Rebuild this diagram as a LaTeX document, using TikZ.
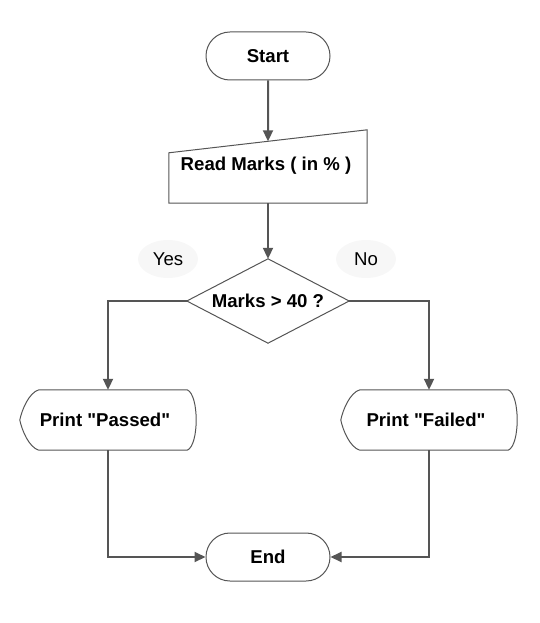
\documentclass[tikz,border=0pt]{standalone}
\usepackage{fontspec}
\setmainfont{Liberation Sans}[Ligatures=TeXOff]
\usetikzlibrary{arrows.meta,calc,shapes.geometric}
\definecolor{ln}{HTML}{555555}
\definecolor{lblbg}{HTML}{F7F7F7}
\begin{document}
\begin{tikzpicture}[x=1pt,y=-1pt,
  font=\bfseries\fontsize{18.6}{22}\selectfont,
  box/.style={rectangle, draw=none, inner sep=0pt},
  outline/.style={draw=ln, line width=1pt, fill=white},
  conn/.style={draw=ln, line width=2pt, -{Triangle[length=11pt,width=10pt]}},
  term/.style={rectangle, rounded corners=23.9pt, minimum width=124pt, minimum height=48pt, draw=ln, line width=1pt, fill=white},
  lbl/.style={ellipse, fill=lblbg, minimum width=60pt, minimum height=38pt, inner sep=0pt, font=\fontsize{18.6}{22}\selectfont}]
\useasboundingbox (0,0) rectangle (540,623);

% nodes
\node[term] (start) at (268,56) {Start};
\node[box, minimum width=198pt, minimum height=73pt] (read) at (268,166.5) {};
\node[box, minimum width=162pt, minimum height=84pt] (dec) at (268,301) {};
\node[box, minimum width=176pt, minimum height=60pt] (pass) at (108,420) {};
\node[box, minimum width=176pt, minimum height=60pt] (fail) at (429,420) {};
\node[term] (end) at (268,557) {End};

% outlines
\path[outline] (read.south west) -- (read.south east) -- (read.north east) -- ($(read.north west)+(0,23)$) -- cycle;
\node at (266,166) {Read Marks ( in \% )};

\path[outline] (dec.north) -- (dec.east) -- (dec.south) -- (dec.west) -- cycle;
\node at (dec.center) {Marks > 40 ?};

\foreach \n/\t in {pass/{Print "Passed"}, fail/{Print "Failed"}}{
  \path[outline] ($(\n.north west)+(19,0)$) -- ($(\n.north east)+(-9,0)$)
     .. controls ($(\n.north east)+(3,5)$) and ($(\n.south east)+(3,-5)$) .. ($(\n.south east)+(-9,0)$)
     -- ($(\n.south west)+(19,0)$)
     .. controls ($(\n.south west)+(9,-3)$) and ($(\n.west)+(2,10)$) .. (\n.west)
     .. controls ($(\n.west)+(2,-10)$) and ($(\n.north west)+(9,3)$) .. cycle;
  \node at ($(\n.center)+(-3,0)$) {\t};
}

% yes / no labels
\node[lbl] (yes) at (168,259) {Yes};
\node[lbl] (no) at (366,259) {No};

% connectors
\coordinate (readtop) at ($(read.north west)!0.5!(read.north east)+(0,11.5)$);
\draw[conn] (start.south) -- (readtop);
\draw[conn] (read.south) -- (dec.north);
\draw[conn] (dec.west) -| (pass.north);
\draw[conn] (dec.east) -| (fail.north);
\draw[conn] (pass.south) |- (end.west);
\draw[conn] (fail.south) |- (end.east);
\end{tikzpicture}
\end{document}
